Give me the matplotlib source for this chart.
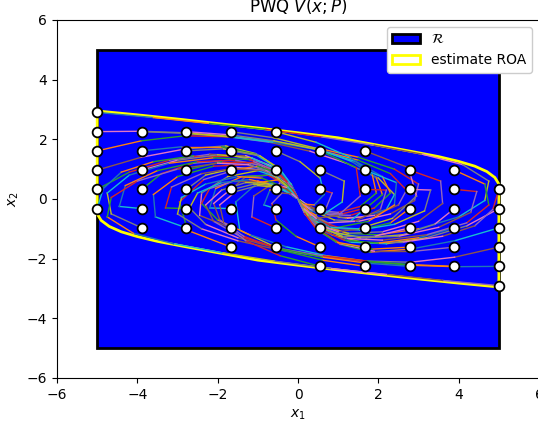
import numpy as np
import matplotlib
matplotlib.use("Agg")
import matplotlib.pyplot as plt
from matplotlib.patches import Rectangle, Polygon

# region R (box) and estimated ROA boundary
box_lo, box_hi = -5, 5
roa_x = [-5, -4, -3, -2, -1, 0, 1, 2, 2.8, 3.5, 4.0, 4.4, 4.7, 4.9, 5,
         5, 4, 3, 2, 1, 0, -1, -2, -2.8, -3.5, -4.0, -4.4, -4.7, -4.9, -5]
roa_y = [2.95, 2.82, 2.68, 2.53, 2.38, 2.22, 2.05, 1.8, 1.6, 1.42, 1.26, 1.1, 0.92, 0.72, 0.5,
         -2.95, -2.82, -2.68, -2.53, -2.38, -2.22, -2.05, -1.8, -1.6, -1.42, -1.26, -1.1, -0.92, -0.72, -0.5]

# initial states
start_x = [-5]*6 + [-3.889]*6 + [-2.778]*6 + [-1.667]*7 + [-0.556]*7 \
        + [5]*6 + [3.889]*6 + [2.778]*6 + [1.667]*7 + [0.556]*7
start_y = [2.903, 2.258, 1.613, 0.968, 0.323, -0.323,
           2.258, 1.613, 0.968, 0.323, -0.323, -0.968,
           2.258, 1.613, 0.968, 0.323, -0.323, -0.968,
           2.258, 1.613, 0.968, 0.323, -0.323, -0.968, -1.613,
           2.258, 1.613, 0.968, 0.323, -0.323, -0.968, -1.613,
           -2.903, -2.258, -1.613, -0.968, -0.323, 0.323,
           -2.258, -1.613, -0.968, -0.323, 0.323, 0.968,
           -2.258, -1.613, -0.968, -0.323, 0.323, 0.968,
           -2.258, -1.613, -0.968, -0.323, 0.323, 0.968, 1.613,
           -2.258, -1.613, -0.968, -0.323, 0.323, 0.968, 1.613]

# simulated trajectories, one (x, y) pair per start point
trajectories = [
    # x1 = -5
    ([-5, -3.6, -2.2, -0.8, 0.6, 1.9, 3.1, 4.1, 4.75, 4.65, 4.0, 3.0, 2.0, 1.2, 0.6, 0.25, 0.05],
     [2.903, 2.73, 2.53, 2.33, 2.08, 1.8, 1.5, 1.15, 0.6, -0.05, -0.6, -1.0, -1.2, -1.15, -0.8, -0.4, -0.08]),
    ([-5, -3.9, -2.8, -1.7, -0.6, 0.5, 1.5, 2.4, 3.0, 2.9, 2.3, 1.5, 0.9, 0.45, 0.15, 0.0],
     [2.258, 2.27, 2.22, 2.1, 1.93, 1.7, 1.4, 1.0, 0.5, -0.05, -0.5, -0.75, -0.7, -0.45, -0.17, 0.0]),
    ([-5, -3.9, -2.8, -1.7, -0.7, 0.3, 1.2, 2.0, 2.4, 2.2, 1.6, 1.0, 0.5, 0.2, 0.05],
     [1.613, 1.95, 2.12, 2.08, 1.9, 1.6, 1.2, 0.7, 0.15, -0.35, -0.6, -0.6, -0.4, -0.17, -0.03]),
    ([-5, -3.9, -2.8, -1.8, -1.05, -0.5, -0.18, -0.03],
     [0.968, 1.4, 1.68, 1.78, 1.52, 1.05, 0.5, 0.08]),
    ([-5, -4.2, -3.2, -2.2, -1.3, -0.65, -0.25, -0.05],
     [0.323, 0.9, 1.3, 1.5, 1.45, 1.1, 0.55, 0.12]),
    ([-5, -4.85, -4.4, -3.6, -2.6, -1.6, -0.85, -0.35, -0.08],
     [-0.323, 0.35, 0.9, 1.25, 1.45, 1.45, 1.2, 0.65, 0.15]),
    # x1 = -3.889
    ([-3.889, -2.8, -1.7, -0.6, 0.5, 1.5, 2.3, 2.7, 2.5, 1.9, 1.2, 0.6, 0.25, 0.05],
     [2.258, 2.2, 2.08, 1.9, 1.65, 1.3, 0.85, 0.3, -0.2, -0.55, -0.65, -0.48, -0.22, -0.04]),
    ([-3.889, -2.9, -1.9, -1.05, -0.5, -0.18, -0.03],
     [1.613, 1.75, 1.75, 1.5, 1.05, 0.5, 0.1]),
    ([-3.889, -3.0, -2.0, -1.15, -0.55, -0.2, -0.04],
     [0.968, 1.3, 1.48, 1.38, 1.0, 0.48, 0.1]),
    ([-3.889, -3.4, -2.6, -1.7, -0.95, -0.45, -0.15, -0.02],
     [0.323, 0.85, 1.2, 1.3, 1.15, 0.75, 0.3, 0.04]),
    ([-3.889, -4.45, -4.3, -3.5, -2.5, -1.55, -0.85, -0.35, -0.1],
     [-0.323, -0.25, 0.45, 0.95, 1.25, 1.3, 1.1, 0.65, 0.2]),
    ([-3.889, -4.65, -4.75, -4.2, -3.2, -2.1, -1.2, -0.6, -0.22, -0.04],
     [-0.968, -0.5, 0.2, 0.8, 1.2, 1.38, 1.32, 0.95, 0.45, 0.08]),
    # x1 = -2.778
    ([-2.778, -1.7, -0.6, 0.5, 1.45, 2.1, 2.3, 1.9, 1.3, 0.7, 0.3, 0.07],
     [2.258, 2.15, 1.95, 1.65, 1.25, 0.75, 0.2, -0.3, -0.55, -0.52, -0.28, -0.06]),
    ([-2.778, -1.85, -1.05, -0.5, -0.18, -0.03],
     [1.613, 1.68, 1.48, 1.02, 0.5, 0.1]),
    ([-2.778, -1.9, -1.1, -0.52, -0.18, -0.03],
     [0.968, 1.25, 1.25, 0.92, 0.45, 0.08]),
    ([-2.778, -2.3, -1.5, -0.8, -0.35, -0.1],
     [0.323, 0.8, 1.05, 0.95, 0.58, 0.18]),
    ([-2.778, -3.3, -3.15, -2.4, -1.5, -0.8, -0.35, -0.08],
     [-0.323, -0.3, 0.4, 0.85, 1.05, 0.95, 0.55, 0.12]),
    ([-2.778, -3.55, -3.6, -3.0, -2.1, -1.25, -0.6, -0.22, -0.04],
     [-0.968, -0.6, 0.15, 0.75, 1.1, 1.15, 0.9, 0.45, 0.08]),
    # x1 = -1.667
    ([-1.667, -0.6, 0.45, 1.35, 1.95, 2.1, 1.7, 1.1, 0.6, 0.25, 0.05],
     [2.258, 2.05, 1.7, 1.25, 0.7, 0.15, -0.3, -0.5, -0.45, -0.22, -0.04]),
    ([-1.667, -0.95, -0.45, -0.15, -0.02],
     [1.613, 1.45, 1.0, 0.45, 0.07]),
    ([-1.667, -1.0, -0.48, -0.16, -0.03],
     [0.968, 1.1, 0.85, 0.4, 0.07]),
    ([-1.667, -1.3, -0.7, -0.3, -0.08],
     [0.323, 0.75, 0.8, 0.45, 0.12]),
    ([-1.667, -2.2, -2.05, -1.4, -0.75, -0.3, -0.07],
     [-0.323, -0.3, 0.35, 0.75, 0.8, 0.48, 0.1]),
    ([-1.667, -2.45, -2.4, -1.75, -1.0, -0.45, -0.13],
     [-0.968, -0.55, 0.2, 0.75, 0.95, 0.7, 0.28]),
    ([-1.667, -2.75, -2.95, -2.35, -1.5, -0.8, -0.32, -0.07],
     [-1.613, -1.05, -0.1, 0.65, 1.0, 0.95, 0.55, 0.12]),
    # x1 = -0.556
    ([-0.556, 0.45, 1.3, 1.85, 1.95, 1.55, 1.0, 0.5, 0.18, 0.03],
     [2.258, 1.9, 1.4, 0.8, 0.2, -0.25, -0.45, -0.38, -0.17, -0.03]),
    ([-0.556, 0.05, 0.55, 0.65, 0.4, 0.15, 0.03],
     [1.613, 1.25, 0.7, 0.15, -0.2, -0.17, -0.04]),
    ([-0.556, -0.25, -0.08, 0.0],
     [0.968, 0.55, 0.18, 0.02]),
    ([-0.556, -0.45, -0.2, -0.05],
     [0.323, 0.55, 0.35, 0.08]),
    ([-0.556, -0.85, -0.7, -0.35, -0.1],
     [-0.323, -0.2, 0.3, 0.4, 0.15]),
    ([-0.556, -1.15, -1.1, -0.65, -0.25, -0.05],
     [-0.968, -0.6, 0.1, 0.5, 0.38, 0.1]),
    ([-0.556, -1.45, -1.55, -1.0, -0.45, -0.13, 0.0],
     [-1.613, -1.05, -0.1, 0.55, 0.65, 0.3, 0.02]),
    # x1 = 5
    ([5, 3.6, 2.2, 0.8, -0.6, -1.9, -3.1, -4.1, -4.75, -4.65, -4.0, -3.0, -2.0, -1.2, -0.6, -0.25, -0.05],
     [-2.903, -2.73, -2.53, -2.33, -2.08, -1.8, -1.5, -1.15, -0.6, 0.05, 0.6, 1.0, 1.2, 1.15, 0.8, 0.4, 0.08]),
    ([5, 3.9, 2.8, 1.7, 0.6, -0.5, -1.5, -2.4, -3.0, -2.9, -2.3, -1.5, -0.9, -0.45, -0.15, 0.0],
     [-2.258, -2.27, -2.22, -2.1, -1.93, -1.7, -1.4, -1.0, -0.5, 0.05, 0.5, 0.75, 0.7, 0.45, 0.17, 0.0]),
    ([5, 3.9, 2.8, 1.7, 0.7, -0.3, -1.2, -2.0, -2.4, -2.2, -1.6, -1.0, -0.5, -0.2, -0.05],
     [-1.613, -1.95, -2.12, -2.08, -1.9, -1.6, -1.2, -0.7, -0.15, 0.35, 0.6, 0.6, 0.4, 0.17, 0.03]),
    ([5, 3.9, 2.8, 1.8, 1.05, 0.5, 0.18, 0.03],
     [-0.968, -1.4, -1.68, -1.78, -1.52, -1.05, -0.5, -0.08]),
    ([5, 4.2, 3.2, 2.2, 1.3, 0.65, 0.25, 0.05],
     [-0.323, -0.9, -1.3, -1.5, -1.45, -1.1, -0.55, -0.12]),
    ([5, 4.85, 4.4, 3.6, 2.6, 1.6, 0.85, 0.35, 0.08],
     [0.323, -0.35, -0.9, -1.25, -1.45, -1.45, -1.2, -0.65, -0.15]),
    # x1 = 3.889
    ([3.889, 2.8, 1.7, 0.6, -0.5, -1.5, -2.3, -2.7, -2.5, -1.9, -1.2, -0.6, -0.25, -0.05],
     [-2.258, -2.2, -2.08, -1.9, -1.65, -1.3, -0.85, -0.3, 0.2, 0.55, 0.65, 0.48, 0.22, 0.04]),
    ([3.889, 2.9, 1.9, 1.05, 0.5, 0.18, 0.03],
     [-1.613, -1.75, -1.75, -1.5, -1.05, -0.5, -0.1]),
    ([3.889, 3.0, 2.0, 1.15, 0.55, 0.2, 0.04],
     [-0.968, -1.3, -1.48, -1.38, -1.0, -0.48, -0.1]),
    ([3.889, 3.4, 2.6, 1.7, 0.95, 0.45, 0.15, 0.02],
     [-0.323, -0.85, -1.2, -1.3, -1.15, -0.75, -0.3, -0.04]),
    ([3.889, 4.45, 4.3, 3.5, 2.5, 1.55, 0.85, 0.35, 0.1],
     [0.323, 0.25, -0.45, -0.95, -1.25, -1.3, -1.1, -0.65, -0.2]),
    ([3.889, 4.65, 4.75, 4.2, 3.2, 2.1, 1.2, 0.6, 0.22, 0.04],
     [0.968, 0.5, -0.2, -0.8, -1.2, -1.38, -1.32, -0.95, -0.45, -0.08]),
    # x1 = 2.778
    ([2.778, 1.7, 0.6, -0.5, -1.45, -2.1, -2.3, -1.9, -1.3, -0.7, -0.3, -0.07],
     [-2.258, -2.15, -1.95, -1.65, -1.25, -0.75, -0.2, 0.3, 0.55, 0.52, 0.28, 0.06]),
    ([2.778, 1.85, 1.05, 0.5, 0.18, 0.03],
     [-1.613, -1.68, -1.48, -1.02, -0.5, -0.1]),
    ([2.778, 1.9, 1.1, 0.52, 0.18, 0.03],
     [-0.968, -1.25, -1.25, -0.92, -0.45, -0.08]),
    ([2.778, 2.3, 1.5, 0.8, 0.35, 0.1],
     [-0.323, -0.8, -1.05, -0.95, -0.58, -0.18]),
    ([2.778, 3.3, 3.15, 2.4, 1.5, 0.8, 0.35, 0.08],
     [0.323, 0.3, -0.4, -0.85, -1.05, -0.95, -0.55, -0.12]),
    ([2.778, 3.55, 3.6, 3.0, 2.1, 1.25, 0.6, 0.22, 0.04],
     [0.968, 0.6, -0.15, -0.75, -1.1, -1.15, -0.9, -0.45, -0.08]),
    # x1 = 1.667
    ([1.667, 0.6, -0.45, -1.35, -1.95, -2.1, -1.7, -1.1, -0.6, -0.25, -0.05],
     [-2.258, -2.05, -1.7, -1.25, -0.7, -0.15, 0.3, 0.5, 0.45, 0.22, 0.04]),
    ([1.667, 0.95, 0.45, 0.15, 0.02],
     [-1.613, -1.45, -1.0, -0.45, -0.07]),
    ([1.667, 1.0, 0.48, 0.16, 0.03],
     [-0.968, -1.1, -0.85, -0.4, -0.07]),
    ([1.667, 1.3, 0.7, 0.3, 0.08],
     [-0.323, -0.75, -0.8, -0.45, -0.12]),
    ([1.667, 2.2, 2.05, 1.4, 0.75, 0.3, 0.07],
     [0.323, 0.3, -0.35, -0.75, -0.8, -0.48, -0.1]),
    ([1.667, 2.45, 2.4, 1.75, 1.0, 0.45, 0.13],
     [0.968, 0.55, -0.2, -0.75, -0.95, -0.7, -0.28]),
    ([1.667, 2.75, 2.95, 2.35, 1.5, 0.8, 0.32, 0.07],
     [1.613, 1.05, 0.1, -0.65, -1.0, -0.95, -0.55, -0.12]),
    # x1 = 0.556
    ([0.556, -0.45, -1.3, -1.85, -1.95, -1.55, -1.0, -0.5, -0.18, -0.03],
     [-2.258, -1.9, -1.4, -0.8, -0.2, 0.25, 0.45, 0.38, 0.17, 0.03]),
    ([0.556, -0.05, -0.55, -0.65, -0.4, -0.15, -0.03],
     [-1.613, -1.25, -0.7, -0.15, 0.2, 0.17, 0.04]),
    ([0.556, 0.25, 0.08, 0.0],
     [-0.968, -0.55, -0.18, -0.02]),
    ([0.556, 0.45, 0.2, 0.05],
     [-0.323, -0.55, -0.35, -0.08]),
    ([0.556, 0.85, 0.7, 0.35, 0.1],
     [0.323, 0.2, -0.3, -0.4, -0.15]),
    ([0.556, 1.15, 1.1, 0.65, 0.25, 0.05],
     [0.968, 0.6, -0.1, -0.5, -0.38, -0.1]),
    ([0.556, 1.45, 1.55, 1.0, 0.45, 0.13, 0.0],
     [1.613, 1.05, 0.1, -0.55, -0.65, -0.3, -0.02]),
]

fig = plt.figure(figsize=(5.38, 4.25), dpi=100)
ax = fig.add_axes([0.106, 0.1106, 0.8959, 0.8424])

box = Rectangle((box_lo, box_lo), box_hi - box_lo, box_hi - box_lo,
                facecolor="b", edgecolor="k", linewidth=2, label=r"$\mathcal{R}$", zorder=1)
ax.add_patch(box)
roa = Polygon(np.column_stack([roa_x, roa_y]), closed=True, fill=False,
              edgecolor="yellow", linewidth=2, label="estimate ROA", zorder=2)
ax.add_patch(roa)

# every segment takes the next colour of the cycle
colors = plt.rcParams["axes.prop_cycle"].by_key()["color"]
k = 0
for xs, ys in trajectories:
    for i in range(len(xs) - 1):
        ax.plot(xs[i:i + 2], ys[i:i + 2], color=colors[k % len(colors)], lw=1.0, zorder=3)
        k += 1

ax.plot(start_x, start_y, "o", mfc="white", mec="black", ms=7, mew=1.3, ls="none", zorder=4)

ax.set_xlim(-6, 6)
ax.set_ylim(-6, 6)
ax.set_xticks(np.arange(-6, 7, 2))
ax.set_yticks(np.arange(-6, 7, 2))
ax.set_xlabel(r"$x_1$")
ax.set_ylabel(r"$x_2$")
ax.set_title(r"PWQ $V(x;P)$")
ax.legend(handles=[box, roa], loc="upper right", framealpha=1)

fig.savefig("out.png", dpi=100)
